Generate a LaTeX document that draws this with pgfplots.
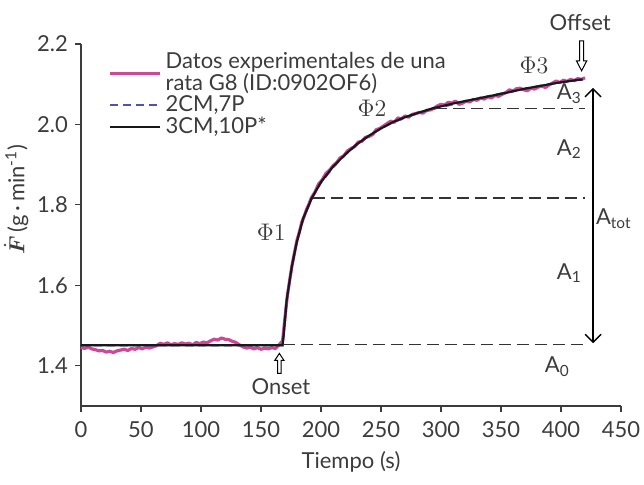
\documentclass[border=0pt]{standalone}
\usepackage{amsmath}
\usepackage{fontspec}
\setmainfont{Lato}
\usepackage{pgfplots}
\pgfplotsset{compat=1.18}
\usetikzlibrary{arrows.meta}
\definecolor{pinkexp}{RGB}{206,72,152}
\definecolor{bluefit}{RGB}{82,82,172}
\definecolor{axgray}{RGB}{60,60,60}

\pgfplotstableread{
x y
0 1.446
3 1.443
6 1.447
9 1.442
12 1.440
15 1.437
18 1.438
21 1.434
24 1.436
27 1.433
30 1.437
33 1.439
36 1.441
39 1.438
42 1.443
45 1.441
48 1.445
51 1.442
54 1.446
57 1.444
60 1.447
63 1.450
66 1.456
69 1.453
72 1.457
75 1.452
78 1.455
81 1.453
84 1.457
87 1.454
90 1.456
93 1.452
96 1.458
99 1.455
102 1.459
105 1.457
108 1.462
111 1.466
114 1.464
117 1.469
120 1.466
123 1.465
126 1.461
129 1.458
132 1.452
135 1.447
138 1.444
141 1.446
144 1.442
147 1.445
150 1.441
153 1.444
156 1.442
159 1.445
162 1.443
165 1.452
168 1.462
170 1.52
172 1.575
174 1.615
176 1.652
178 1.682
180 1.712
182 1.733
184 1.757
186 1.772
188 1.789
190 1.802
192 1.818
195 1.832
198 1.852
201 1.862
204 1.878
207 1.886
210 1.897
213 1.905
216 1.917
219 1.922
222 1.934
225 1.940
228 1.945
231 1.956
234 1.958
237 1.968
240 1.970
243 1.975
246 1.987
249 1.990
252 1.996
255 2.002
258 2.008
261 2.005
264 2.016
267 2.014
270 2.021
273 2.018
276 2.025
279 2.027
282 2.030
285 2.028
288 2.035
291 2.036
294 2.040
297 2.046
300 2.050
303 2.048
306 2.055
309 2.053
312 2.058
315 2.050
318 2.053
321 2.058
324 2.056
327 2.062
330 2.060
333 2.066
336 2.063
339 2.069
342 2.066
345 2.072
348 2.070
351 2.075
354 2.079
357 2.086
360 2.083
363 2.089
366 2.090
369 2.086
372 2.084
375 2.090
378 2.088
381 2.093
384 2.095
387 2.092
390 2.098
393 2.103
396 2.108
399 2.104
402 2.110
405 2.107
408 2.112
411 2.109
414 2.114
417 2.112
420 2.116
}\expdata

\pgfplotstableread{
x y
0 1.451
168 1.451
171 1.555
176 1.650
180 1.710
186 1.772
193 1.820
200 1.855
210 1.893
220 1.924
230 1.950
240 1.972
250 1.990
260 2.005
275 2.022
290 2.036
310 2.050
330 2.064
350 2.077
370 2.089
390 2.100
405 2.107
420 2.114
}\twocm

\pgfplotstableread{
x y
0 1.451
168 1.451
169 1.480
171.4 1.563
175.6 1.645
179.7 1.706
185 1.765
192 1.815
200 1.857
210 1.895
220 1.925
230 1.951
240 1.972
250 1.990
260 2.006
270 2.018
280 2.028
293 2.040
310 2.052
325 2.061
340 2.070
355 2.079
370 2.089
385 2.097
400 2.105
418 2.112
}\threecm

\begin{document}
\begin{tikzpicture}
\path[use as bounding box] (-40.5pt,-39.5pt) rectangle (281.5pt,203pt);
\begin{axis}[
  scale only axis,
  width=270pt, height=181pt,
  at={(0pt,0pt)}, anchor=south west,
  xmin=0, xmax=450, ymin=1.3, ymax=2.2,
  axis x line*=bottom, axis y line*=left,
  axis line style={-, axgray, line width=0.6pt},
  every tick/.style={axgray, line width=0.6pt},
  tick align=outside, major tick length=3pt,
  xtick={0,50,...,450},
  ytick={1.4,1.6,1.8,2.0,2.2},
  /pgf/number format/assume math mode=true,
  ticklabel style={font=\fontsize{11}{13}\selectfont, text=axgray},
  xticklabel style={yshift=-1.5pt},
  yticklabel style={/pgf/number format/.cd, fixed, fixed zerofill, precision=1},
  xlabel={Tiempo (s)},
  ylabel={$\dot{\boldsymbol{F}}$\,(g\,·\,min\textsuperscript{-1})},
  label style={font=\fontsize{11}{13}\selectfont, text=axgray},
  ylabel style={at={(axis description cs:-0.12,0.57)}, anchor=center},
  clip=false,
  legend style={draw=none, fill=none, at={(0.05,0.988)}, anchor=north west,
    font=\fontsize{11}{11}\selectfont, text=axgray, row sep=-3pt, inner sep=0pt,
    cells={align=left}},
  legend cell align=left,
  legend image code/.code={\draw[#1] (0cm,0cm) -- (0.88cm,0cm);},
]
\addplot[pinkexp, line width=1.6pt, line join=round] table[x=x,y=y] {\expdata};
\addlegendentry{Datos experimentales de una\\rata G8 (ID:0902OF6)}
\addplot[bluefit, line width=1pt, dash pattern=on 4pt off 2.5pt] table[x=x,y=y] {\twocm};
\addlegendentry{2CM,7P}
\addplot[black!90, line width=1.1pt] table[x=x,y=y] {\threecm};
\addlegendentry{3CM,10P*}

% dashed reference levels
\addplot[black!80, line width=0.8pt, dash pattern=on 6pt off 3pt, forget plot] coordinates {(168,1.453) (420,1.453)};
\addplot[black!80, line width=0.8pt, dash pattern=on 6pt off 3pt, forget plot] coordinates {(193,1.817) (420,1.817)};
\addplot[black!80, line width=0.8pt, dash pattern=on 6pt off 3pt, forget plot] coordinates {(295,2.040) (420,2.040)};

% A_tot double arrow
\draw[black, line width=0.7pt, {Straight Barb[length=4pt,width=8pt]}-{Straight Barb[length=4pt,width=8pt]}]
  (axis cs:426.7,1.456) -- (axis cs:426.7,2.091);

% hollow arrows
\draw[black, line width=0.5pt, fill=white] (axis cs:165.3,1.381) ++(-0.9pt,0pt) -- ++(0pt,6.5pt) -- ++(-1.4pt,0pt) -- ++(2.3pt,3.5pt) -- ++(2.3pt,-3.5pt) -- ++(-1.4pt,0pt) -- ++(0pt,-6.5pt) -- cycle;
\draw[black, line width=0.5pt, fill=white] (axis cs:417.2,2.208) ++(-1pt,0pt) -- ++(0pt,-10pt) -- ++(-1.6pt,0pt) -- ++(2.6pt,-5pt) -- ++(2.6pt,5pt) -- ++(-1.6pt,0pt) -- ++(0pt,10pt) -- cycle;

% labels
\begin{scope}[every node/.style={font=\fontsize{11}{13}\selectfont, text=axgray}]
\node[font=\fontsize{12.5}{14}\selectfont] at (axis cs:158.5,1.731) {$\Phi1$};
\node[font=\fontsize{12.5}{14}\selectfont] at (axis cs:242.5,2.041) {$\Phi2$};
\node[font=\fontsize{12.5}{14}\selectfont] at (axis cs:377.5,2.148) {$\Phi3$};
\node at (axis cs:416,2.253) {Offset};
\node at (axis cs:166.7,1.347) {Onset};
\node at (axis cs:407,2.076) {A\textsubscript{3}};
\node at (axis cs:407,1.939) {A\textsubscript{2}};
\node at (axis cs:444,1.766) {A\textsubscript{tot}};
\node at (axis cs:407,1.630) {A\textsubscript{1}};
\node at (axis cs:397,1.397) {A\textsubscript{0}};
\end{scope}
\end{axis}
\end{tikzpicture}
\end{document}
